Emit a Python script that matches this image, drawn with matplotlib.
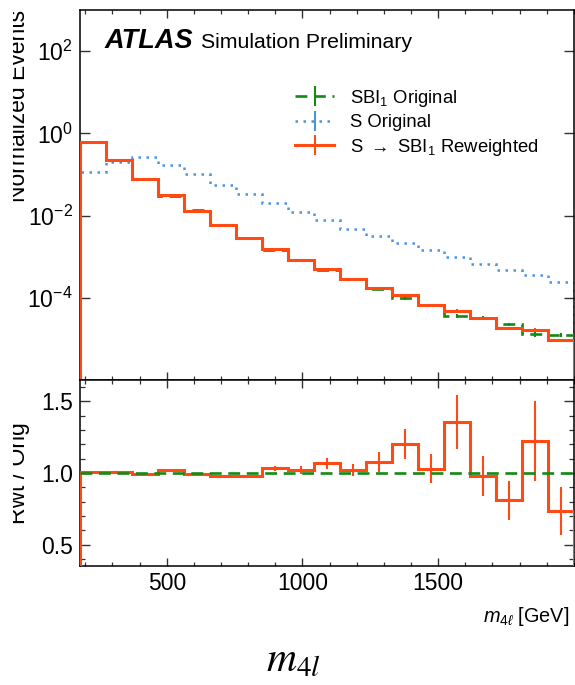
import matplotlib
matplotlib.use("Agg")
import matplotlib.pyplot as plt
import numpy as np
from matplotlib.lines import Line2D
from matplotlib.ticker import FixedLocator, MultipleLocator, NullLocator, FuncFormatter
from matplotlib.transforms import Bbox, TransformedBbox

# Dados: 19 bins em m4l de 180 a 2000 GeV
bin_edges = np.linspace(180, 2000, 20)
sbi_original = [0.617, 0.229, 0.0774, 0.0304, 0.0133, 0.0059, 0.00287, 0.00148, 0.00082,
                4.65e-4, 2.85e-4, 1.64e-4, 9.6e-5, 6.6e-5, 3.6e-5, 3.2e-5, 2.25e-5, 1.34e-5, 1.26e-5]
s_original = [0.112, 0.20, 0.26, 0.17, 0.10, 0.056, 0.033, 0.020, 0.012,
              0.0077, 0.0048, 0.00326, 0.0021, 0.00147, 0.00096, 0.00066, 0.00048, 0.00035, 0.00024]
ratio = [1.005, 1.005, 0.995, 1.02, 0.99, 0.976, 0.976, 1.032, 1.023,
         1.067, 1.023, 1.08, 1.20, 1.03, 1.355, 0.98, 0.81, 1.226, 0.735]
ratio_err = [0.004, 0.005, 0.006, 0.008, 0.008, 0.01, 0.012, 0.018, 0.028,
             0.037, 0.042, 0.07, 0.105, 0.103, 0.19, 0.14, 0.136, 0.28, 0.167]
sbi_rel_err = [0.003, 0.004, 0.006, 0.008, 0.01, 0.012, 0.015, 0.02, 0.025,
               0.03, 0.035, 0.045, 0.06, 0.07, 0.09, 0.1, 0.1, 0.15, 0.12]
rwt_rel_err = [0.003, 0.004, 0.005, 0.006, 0.008, 0.01, 0.012, 0.015, 0.02,
               0.025, 0.03, 0.04, 0.05, 0.06, 0.08, 0.08, 0.09, 0.12, 0.1]

sbi_original = np.array(sbi_original)
s_original = np.array(s_original)
ratio = np.array(ratio)
s_reweighted = sbi_original * ratio
centers = 0.5 * (bin_edges[1:] + bin_edges[:-1])

c_green = "#138a13"
c_blue = "#4b94e0"
c_orange = "#ff4a14"

plt.rcParams["font.family"] = "Liberation Sans"
plt.rcParams["mathtext.fontset"] = "custom"
plt.rcParams["mathtext.rm"] = "Liberation Sans"
plt.rcParams["mathtext.it"] = "Liberation Sans:italic"
plt.rcParams["mathtext.bf"] = "Liberation Sans:bold"

fig = plt.figure(figsize=(5.75, 6.85), dpi=100)
ax1 = fig.add_axes([0.139, 0.4453, 0.859, 0.540])
ax2 = fig.add_axes([0.139, 0.1737, 0.859, 0.2715], sharex=ax1)

# painel superior
ax1.stairs(s_original, bin_edges, baseline=1e-12, color=c_blue, lw=1.8, ls=(0, (1, 2.2)), zorder=2)
ax1.stairs(sbi_original, bin_edges, baseline=1e-12, color=c_green, lw=1.9, ls=(0, (4.5, 2.5)), zorder=3)
ax1.errorbar(centers, sbi_original, yerr=sbi_original * np.array(sbi_rel_err), fmt="none",
             ecolor=c_green, elinewidth=1.5, capsize=0, zorder=3)
ax1.stairs(s_reweighted, bin_edges, baseline=1e-12, color=c_orange, lw=2.2, zorder=4)
ax1.errorbar(centers, s_reweighted, yerr=s_reweighted * np.array(rwt_rel_err), fmt="none",
             ecolor=c_orange, elinewidth=1.5, capsize=0, zorder=4)

ax1.set_yscale("log")
ax1.set_ylim(1e-6, 1e3)
ax1.set_xlim(180, 2000)
ax1.yaxis.set_major_locator(FixedLocator([1e-4, 1e-2, 1e0, 1e2]))
ax1.yaxis.set_minor_locator(NullLocator())
ax1.yaxis.set_major_formatter(FuncFormatter(lambda v, p: r"$10^{%d}$" % round(np.log10(v))))
ax1.xaxis.set_major_locator(FixedLocator([500, 1000, 1500]))
ax1.xaxis.set_minor_locator(MultipleLocator(50))
ax1.tick_params(axis="x", labelbottom=False)

ax1.set_ylabel("Normalized Events", fontsize=16.5, loc="top")
ax1.yaxis.set_label_coords(-0.101, 1.0)

ax1.text(0.05, 0.897, "ATLAS", transform=ax1.transAxes, fontsize=19.5,
         fontweight="bold", fontstyle="italic", va="baseline")
ax1.text(0.246, 0.897, "Simulation Preliminary", transform=ax1.transAxes,
         fontsize=15.3, va="baseline")

handles = [
    (Line2D([], [], color=c_green, lw=1.9, ls=(0, (4.5, 2.5))),
     Line2D([], [], color=c_green, marker="|", ls="none", ms=14, mew=1.5)),
    (Line2D([], [], color=c_blue, lw=1.8, ls=(0, (1, 2.2))),
     Line2D([], [], color=c_blue, marker="|", ls="none", ms=14, mew=1.5)),
    (Line2D([], [], color=c_orange, lw=2.2),
     Line2D([], [], color=c_orange, marker="|", ls="none", ms=14, mew=1.5)),
]
labels = ["SBI$_1$ Original", "S Original", "S $\\rightarrow$ SBI$_1$ Reweighted"]
ax1.legend(handles, labels, loc="upper left", bbox_to_anchor=(0.435, 0.79), frameon=False,
           fontsize=13.3, handlelength=2.15, handletextpad=0.85, labelspacing=0.3,
           borderpad=0, borderaxespad=0)

# painel inferior (razão)
ax2.stairs(ratio, bin_edges, baseline=0, color=c_orange, lw=2.2, zorder=3)
ax2.errorbar(centers, ratio, yerr=ratio_err, fmt="none", ecolor=c_orange,
             elinewidth=1.5, capsize=0, zorder=3)
ax2.axhline(1.0, color=c_green, lw=1.9, ls=(0, (4.5, 2.5)), zorder=4)
ax2.set_ylim(0.35, 1.65)
ax2.yaxis.set_major_locator(FixedLocator([0.5, 1.0, 1.5]))
ax2.yaxis.set_minor_locator(MultipleLocator(0.1))
ax2.yaxis.set_major_formatter(FuncFormatter(lambda v, p: "%.1f" % v))
ax2.xaxis.set_major_locator(FixedLocator([500, 1000, 1500]))
ax2.xaxis.set_minor_locator(MultipleLocator(100))
ax2.set_ylabel("Rwt / Orig", fontsize=16.5)
ax2.yaxis.set_label_coords(-0.101, 0.5)
ax2.set_xlabel(r"$m_{4\ell}$ [GeV]", fontsize=14.3, loc="right")
ax2.xaxis.set_label_coords(0.99, -0.21)

for ax in (ax1, ax2):
    ax.tick_params(which="both", direction="in", top=True, right=True, labelsize=16.5,
                   color="#333333")
    ax.tick_params(axis="y", which="major", length=7.5, width=1, pad=5)
    ax.tick_params(axis="y", which="minor", length=3.8, width=0.9)
    ax.tick_params(axis="x", which="major", length=6, width=1, pad=4)
    ax.tick_params(axis="x", which="minor", length=3, width=0.9)
    for s in ax.spines.values():
        s.set_linewidth(1.1)

# títulos dos eixos y cortados à esquerda, como no original
clip = TransformedBbox(Bbox([[13 / 575, 0], [1, 1]]), fig.transFigure)
for ax in (ax1, ax2):
    ax.yaxis.label.set_clip_box(clip)
    ax.yaxis.label.set_clip_on(True)

fig.text(0.51, 0.0204, r"$m_{4l}$", fontsize=30, math_fontfamily="stix",
         ha="center", va="baseline")

fig.savefig("out.png", dpi=100)
